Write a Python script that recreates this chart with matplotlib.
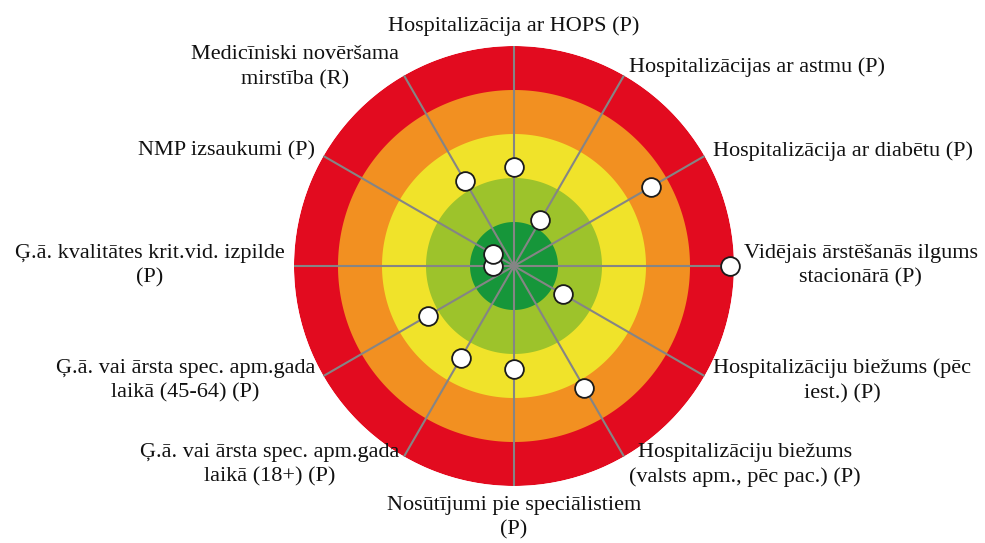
import numpy as np
import matplotlib.pyplot as plt

# indicator names, clockwise from the top
labels = [
    'Hospitalizācija ar HOPS (P)',
    'Hospitalizācijas ar astmu (P)',
    'Hospitalizācija ar diabētu (P)',
    'Vidējais ārstēšanās ilgums\nstacionārā (P)',
    'Hospitalizāciju biežums (pēc\niest.) (P)',
    'Hospitalizāciju biežums\n(valsts apm., pēc pac.) (P)',
    'Nosūtījumi pie speciālistiem\n(P)',
    'Ģ.ā. vai ārsta spec. apm.gada\nlaikā (18+) (P)',
    'Ģ.ā. vai ārsta spec. apm.gada\nlaikā (45-64) (P)',
    'Ģ.ā. kvalitātes krit.vid. izpilde\n(P)',
    'NMP izsaukumi (P)',
    'Medicīniski novēršama\nmirstība (R)',
]
values = [2.26, 1.20, 3.60, 4.91, 1.28, 3.19, 2.34, 2.41, 2.26, 0.48, 0.56, 2.23]

# zones from the centre outwards
zone_edges = [1, 2, 3, 4, 5]
zone_colors = ['#16963a', '#9dc32b', '#f0e32a', '#f29021', '#e20b1f']

W, H = 985, 543
cx, cy, R = 514, 266, 220

fig = plt.figure(figsize=(W / 100, H / 100), dpi=100)
ax = fig.add_axes([(cx - R) / W, (H - cy - R) / H, 2 * R / W, 2 * R / H],
                  projection='polar')
ax.set_theta_zero_location('N')
ax.set_theta_direction(-1)
ax.set_ylim(0, zone_edges[-1])
ax.set_axis_off()

circ = np.linspace(0, 2 * np.pi, 400)
for r, c in reversed(list(zip(zone_edges, zone_colors))):
    ax.fill(circ, np.full_like(circ, r), color=c, lw=0, zorder=1)

n = len(labels)
angles = np.arange(n) * 2 * np.pi / n
for a in angles:
    ax.plot([a, a], [0, zone_edges[-1]], color='#858585', lw=1.5, zorder=2)

ax.plot(angles, values, 'o', ms=13.5, mfc='white', mec='#1a1a1a', mew=1.3,
        zorder=3, clip_on=False)

pad = 7
for a, lab in zip(angles, labels):
    s, c = np.sin(a), np.cos(a)
    if abs(s) < 0.01:
        ha = 'center'
    elif s > 0:
        ha = 'left'
    else:
        ha = 'right'
    if abs(c) > 0.99:
        va = 'bottom' if c > 0 else 'top'
    else:
        va = 'center'
    ax.annotate(lab, xy=(a, zone_edges[-1]), xytext=(pad * s, pad * c),
                textcoords='offset points', ha=ha, va=va, multialignment='center',
                linespacing=1.4, fontsize=16, family='Liberation Serif',
                color='#111111', annotation_clip=False)

fig.savefig('out.png', dpi=100)
